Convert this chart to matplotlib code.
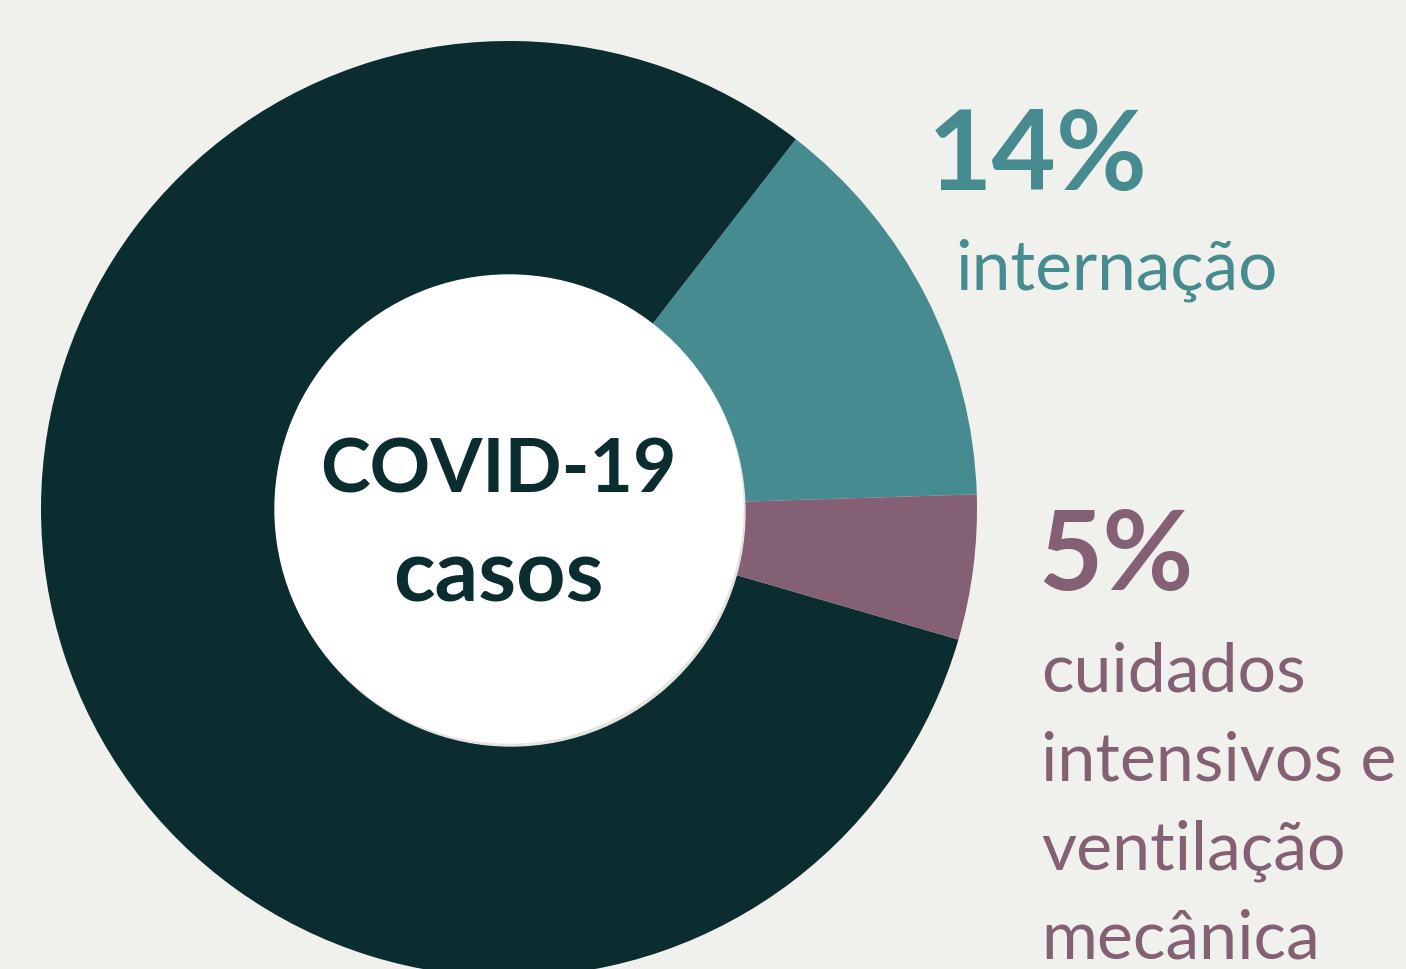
import matplotlib.pyplot as plt
from matplotlib.patches import Circle

# dados (percentual dos casos)
categorias = ['internação', 'outros', 'cuidados intensivos e ventilação mecânica']
valores = [14, 81, 5]
cores = ['#468B8F', '#0B2D30', '#836073']

bg = '#F0F0EC'
W, H = 1406, 970

plt.rcParams['font.family'] = ['Lato', 'DejaVu Sans']

fig = plt.figure(figsize=(W / 100, H / 100), dpi=100, facecolor=bg)
ax = fig.add_axes([0, 0, 1, 1])
ax.set_facecolor(bg)

cx, cy = 509, H - 510
r = 468

ax.pie(valores, colors=cores, startangle=1.8, counterclock=True,
       center=(cx, cy), radius=r, frame=True,
       wedgeprops=dict(linewidth=0))
ax.set_xlim(0, W)
ax.set_ylim(0, H)
ax.set_aspect('equal')
ax.axis('off')

# miolo branco com leve sombra
ax.add_patch(Circle((cx + 2, cy - 3), 234, color='#E6E4DE', zorder=3))
ax.add_patch(Circle((cx, cy), 234, color='white', zorder=4))

ax.text(498, H - 493, 'COVID-19', ha='center', va='baseline', fontsize=54,
        fontweight='bold', color='#0B2D30', zorder=5)
ax.text(498, H - 601, 'casos', ha='center', va='baseline', fontsize=62,
        fontweight='bold', color='#0B2D30', zorder=5)

ax.text(928, H - 190, '14%', ha='left', va='baseline', fontsize=80,
        fontweight='bold', color=cores[0])
ax.text(955, H - 289, categorias[0], ha='left', va='baseline', fontsize=50,
        color=cores[0])

ax.text(1038, H - 590, '5%', ha='left', va='baseline', fontsize=80,
        fontweight='bold', color=cores[2])
linhas = ['cuidados', 'intensivos e', 'ventilação', 'mecânica']
for i, linha in enumerate(linhas):
    ax.text(1041, H - 692 - i * 89, linha, ha='left', va='baseline',
            fontsize=49, color=cores[2])

fig.savefig('out.png', dpi=100, facecolor=bg)
